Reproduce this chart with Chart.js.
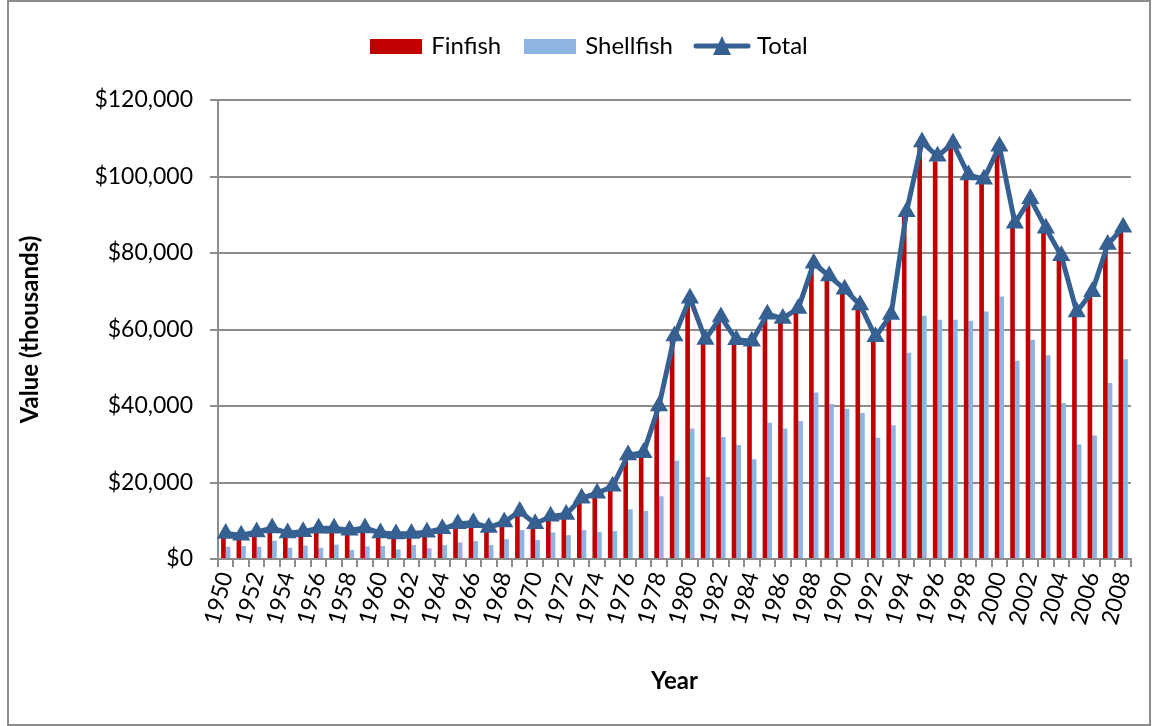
<!DOCTYPE html>
<html>
<head>
<meta charset="utf-8">
<script src="https://cdn.jsdelivr.net/npm/chart.js@4.4.1/dist/chart.umd.min.js"></script>
<style>
    html, body { margin: 0; padding: 0; background: #fff; }
    #wrap { width: 1152px; height: 726px; }
</style>
</head>
<body>
<div id="wrap"><canvas id="chart" width="1152" height="726"></canvas></div>
<script>
const YEARS = ['1950', '1951', '1952', '1953', '1954', '1955', '1956', '1957', '1958', '1959',
    '1960', '1961', '1962', '1963', '1964', '1965', '1966', '1967', '1968', '1969',
    '1970', '1971', '1972', '1973', '1974', '1975', '1976', '1977', '1978', '1979',
    '1980', '1981', '1982', '1983', '1984', '1985', '1986', '1987', '1988', '1989',
    '1990', '1991', '1992', '1993', '1994', '1995', '1996', '1997', '1998', '1999',
    '2000', '2001', '2002', '2003', '2004', '2005', '2006', '2007', '2008'];

// values in thousands of dollars
const FINFISH = [6400, 5950, 6800, 7850, 6550, 6900, 7800, 7800, 7250, 7850,
    6550, 6300, 6400, 6750, 7650, 8950, 9250, 8000, 9400, 12100,
    8900, 10850, 11300, 15500, 16800, 18600, 26600, 27200, 39200, 57300,
    67100, 56400, 62300, 56300, 55900, 63000, 61900, 64500, 76200, 72900,
    69400, 65400, 57100, 62900, 89600, 107700, 104000, 107400, 99200, 98100,
    106600, 86700, 93000, 85400, 78300, 63700, 68900, 81100, 85700];

const SHELLFISH = [3200, 3400, 3200, 4800, 2950, 3500, 2950, 3750, 2350, 3300,
    3400, 2500, 3650, 2800, 3650, 4350, 4700, 3650, 5200, 7550,
    4950, 6950, 6250, 7550, 7100, 7300, 13000, 12550, 16400, 25700,
    34150, 21450, 31900, 29800, 26100, 35600, 34150, 36050, 43550, 40500,
    39300, 38150, 31700, 35000, 53900, 63600, 62550, 62550, 62300, 64700,
    68600, 51850, 57300, 53300, 40800, 29950, 32300, 46000, 52200];

const TOTAL = [6650, 6200, 7050, 8100, 6800, 7150, 8050, 8050, 7500, 8100,
    6800, 6550, 6650, 7000, 7900, 9200, 9500, 8250, 9650, 12450,
    9200, 11150, 11650, 15900, 17200, 19000, 27200, 27800, 40000, 58300,
    68200, 57400, 63300, 57300, 56900, 64000, 62900, 65500, 77300, 74000,
    70500, 66400, 58100, 63900, 90800, 109000, 105300, 108700, 100400, 99300,
    107900, 87800, 94200, 86500, 79300, 64600, 69900, 82200, 86700];

const Y_TICKS = [0, 20000, 40000, 60000, 80000, 100000, 120000];

const RED = '#C00000';
const LIGHT_BLUE = '#8DB4E2';
const LINE_BLUE = '#376092';
const GRID = '#8C8C8C';
const FONT = 'Lato, "Open Sans", sans-serif';

function makeIcon(w, h, draw) {
    const c = document.createElement('canvas');
    c.width = w;
    c.height = h;
    draw(c.getContext('2d'), w, h);
    return c;
}

const legendIcons = [
    makeIcon(52, 15, (ctx, w, h) => { ctx.fillStyle = RED; ctx.fillRect(0, 0, w, h); }),
    makeIcon(52, 15, (ctx, w, h) => { ctx.fillStyle = LIGHT_BLUE; ctx.fillRect(0, 0, w, h); }),
    makeIcon(58, 22, (ctx, w, h) => {
        ctx.strokeStyle = LINE_BLUE;
        ctx.lineWidth = 5;
        ctx.lineCap = 'round';
        ctx.beginPath();
        ctx.moveTo(3, h / 2);
        ctx.lineTo(w - 3, h / 2);
        ctx.stroke();
        ctx.fillStyle = LINE_BLUE;
        ctx.beginPath();
        ctx.moveTo(w / 2, 1);
        ctx.lineTo(w / 2 + 9, h - 2);
        ctx.lineTo(w / 2 - 9, h - 2);
        ctx.closePath();
        ctx.fill();
    }),
];

// white page + thin grey frame round the whole chart
const frame = {
    id: 'frame',
    beforeDraw(chart) {
        const ctx = chart.ctx;
        ctx.save();
        ctx.fillStyle = '#fff';
        ctx.fillRect(0, 0, chart.width, chart.height);
        ctx.strokeStyle = '#8C8C8C';
        ctx.lineWidth = 2;
        ctx.strokeRect(8, 1, chart.width - 10, chart.height - 2);
        ctx.restore();
    },
};

// extra space under the legend, and nudge it right like the original
const legendSpacing = {
    id: 'legendSpacing',
    beforeInit(chart) {
        const fit = chart.legend.fit;
        chart.legend.fit = function () {
            fit.call(this);
            this.height += 32;
        };
    },
    afterLayout(chart) {
        chart.legend.left += 19;
        chart.legend.right += 19;
    },
};

new Chart(document.getElementById('chart'), {
    type: 'bar',
    data: {
        labels: YEARS,
        datasets: [
            {
                label: 'Finfish',
                data: FINFISH,
                backgroundColor: RED,
                order: 1,
            },
            {
                label: 'Shellfish',
                data: SHELLFISH,
                backgroundColor: LIGHT_BLUE,
                order: 2,
            },
            {
                type: 'line',
                label: 'Total',
                data: TOTAL,
                borderColor: LINE_BLUE,
                backgroundColor: LINE_BLUE,
                borderWidth: 5,
                pointStyle: 'triangle',
                pointRadius: 9,
                pointBorderWidth: 1.5,
                pointBackgroundColor: LINE_BLUE,
                pointBorderColor: LINE_BLUE,
                tension: 0,
                order: 0,
            },
        ],
    },
    options: {
        responsive: false,
        animation: false,
        layout: { padding: { left: 10, right: 19, top: 8, bottom: 0 } },
        datasets: {
            bar: { categoryPercentage: 0.6, barPercentage: 1.0 },
        },
        plugins: {
            tooltip: { enabled: false },
            legend: {
                position: 'top',
                labels: {
                    usePointStyle: true,
                    pointStyleWidth: 46,
                    boxHeight: 24,
                    padding: 26,
                    color: '#000',
                    font: { family: FONT, size: 24 },
                    sort: (a, b) => a.datasetIndex - b.datasetIndex,
                    generateLabels(chart) {
                        const items = Chart.defaults.plugins.legend.labels.generateLabels(chart);
                        items.forEach((item) => { item.pointStyle = legendIcons[item.datasetIndex]; });
                        return items;
                    },
                },
            },
        },
        scales: {
            x: {
                afterFit: (scale) => { scale.height = 167; },
                grid: {
                    offset: true,
                    drawOnChartArea: false,
                    drawTicks: true,
                    tickLength: 8,
                    color: GRID,
                    lineWidth: 2,
                },
                border: { color: GRID, width: 2 },
                ticks: {
                    autoSkip: false,
                    minRotation: 75,
                    maxRotation: 75,
                    padding: 2,
                    color: '#000',
                    font: { family: FONT, size: 23 },
                    callback: (value, index) => (index % 2 === 0 ? YEARS[index] : ''),
                },
                title: {
                    display: true,
                    text: 'Year',
                    color: '#000',
                    font: { family: FONT, size: 24, weight: 'bold' },
                    padding: { top: 0, bottom: 30 },
                },
            },
            y: {
                min: 0,
                max: 120000,
                afterFit: (scale) => { scale.width = 208; },
                afterBuildTicks: (scale) => { scale.ticks = Y_TICKS.map((v) => ({ value: v })); },
                grid: {
                    color: GRID,
                    lineWidth: 2,
                    drawTicks: true,
                    tickLength: 8,
                },
                border: { color: GRID, width: 2 },
                ticks: {
                    padding: 17,
                    color: '#000',
                    font: { family: FONT, size: 23 },
                    callback: (value) => '$' + value.toLocaleString('en-US'),
                },
                title: {
                    display: true,
                    text: 'Value (thousands)',
                    color: '#000',
                    font: { family: FONT, size: 24, weight: 'bold' },
                    padding: { top: 6, bottom: 0 },
                },
            },
        },
    },
    plugins: [frame, legendSpacing],
});
</script>
</body>
</html>
